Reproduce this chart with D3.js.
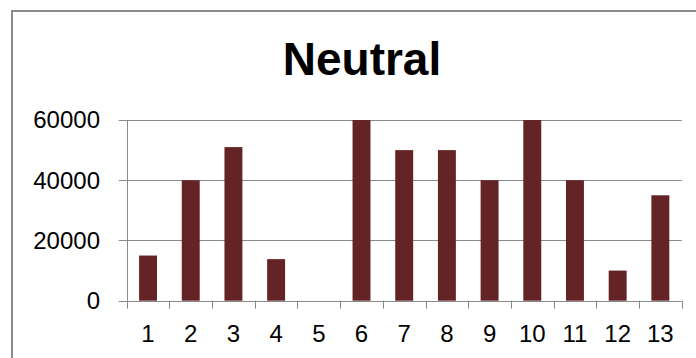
<!DOCTYPE html>
<html>
<head>
<meta charset="utf-8">
<script src="https://cdn.jsdelivr.net/npm/d3@7"></script>
<style>
  html, body { margin: 0; padding: 0; background: #fff; }
  svg { display: block; font-family: "Liberation Sans", Arial, sans-serif; }
</style>
</head>
<body>
<svg id="chart" width="696" height="358"></svg>
<script>
const title = "Neutral";
const categories = ["1","2","3","4","5","6","7","8","9","10","11","12","13"];
const values = [15000, 40000, 51000, 13800, 0, 60000, 50000, 50000, 40000, 60000, 40000, 10000, 35000];
const yTicks = [0, 20000, 40000, 60000];

(function () {
const svg = d3.select("#chart");
const pLeft = 126.7, pRight = 681.7, pTop = 120, pBottom = 300.7;
const gridColor = "#8a8a8a";

// outer frame
svg.append("rect")
  .attr("x", 12).attr("y", 11)
  .attr("width", 700).attr("height", 400)
  .attr("fill", "none").attr("stroke", "#8c8c8c").attr("stroke-width", 2);

const x = d3.scaleBand().domain(categories).range([pLeft, pRight]).padding(0);
const y = d3.scaleLinear().domain([0, 60000]).range([pBottom, pTop]);

// title
svg.append("text")
  .attr("x", 362).attr("y", 75)
  .attr("text-anchor", "middle")
  .attr("font-size", 46).attr("font-weight", "bold")
  .attr("fill", "#000")
  .text(title);

// gridlines + y ticks
const gY = svg.append("g");
gY.selectAll("line.grid").data(yTicks).join("line")
  .attr("class", "grid")
  .attr("x1", pLeft - 8).attr("x2", pRight)
  .attr("y1", d => Math.round(y(d)) + 0.5).attr("y2", d => Math.round(y(d)) + 0.5)
  .attr("stroke", gridColor).attr("stroke-width", 1);
gY.selectAll("text").data(yTicks).join("text")
  .attr("x", 100).attr("y", d => y(d))
  .attr("dy", "0.35em")
  .attr("text-anchor", "end")
  .attr("font-size", 24).attr("fill", "#000")
  .text(d => d);

// y axis line
svg.append("line")
  .attr("x1", Math.round(pLeft) + 0.5).attr("x2", Math.round(pLeft) + 0.5)
  .attr("y1", y(60000)).attr("y2", y(0))
  .attr("stroke", gridColor);

// x axis ticks at category boundaries
const bounds = categories.map(c => x(c)).concat([pRight]);
svg.append("g").selectAll("line").data(bounds).join("line")
  .attr("x1", d => Math.round(d) + 0.5).attr("x2", d => Math.round(d) + 0.5)
  .attr("y1", y(0)).attr("y2", y(0) + 8)
  .attr("stroke", gridColor);

// bars
const barW = x.bandwidth() * 0.42;
svg.append("g").selectAll("rect").data(values).join("rect")
  .attr("x", (d, i) => x(categories[i]) + x.bandwidth() / 2 - barW / 2)
  .attr("y", d => y(d))
  .attr("width", barW)
  .attr("height", d => y(0) - y(d))
  .attr("fill", "#642324");

// x labels
svg.append("g").selectAll("text").data(categories).join("text")
  .attr("x", d => x(d) + x.bandwidth() / 2)
  .attr("y", 341.5)
  .attr("text-anchor", "middle")
  .attr("font-size", 24).attr("fill", "#000")
  .text(d => d);
})();
</script>
</body>
</html>
